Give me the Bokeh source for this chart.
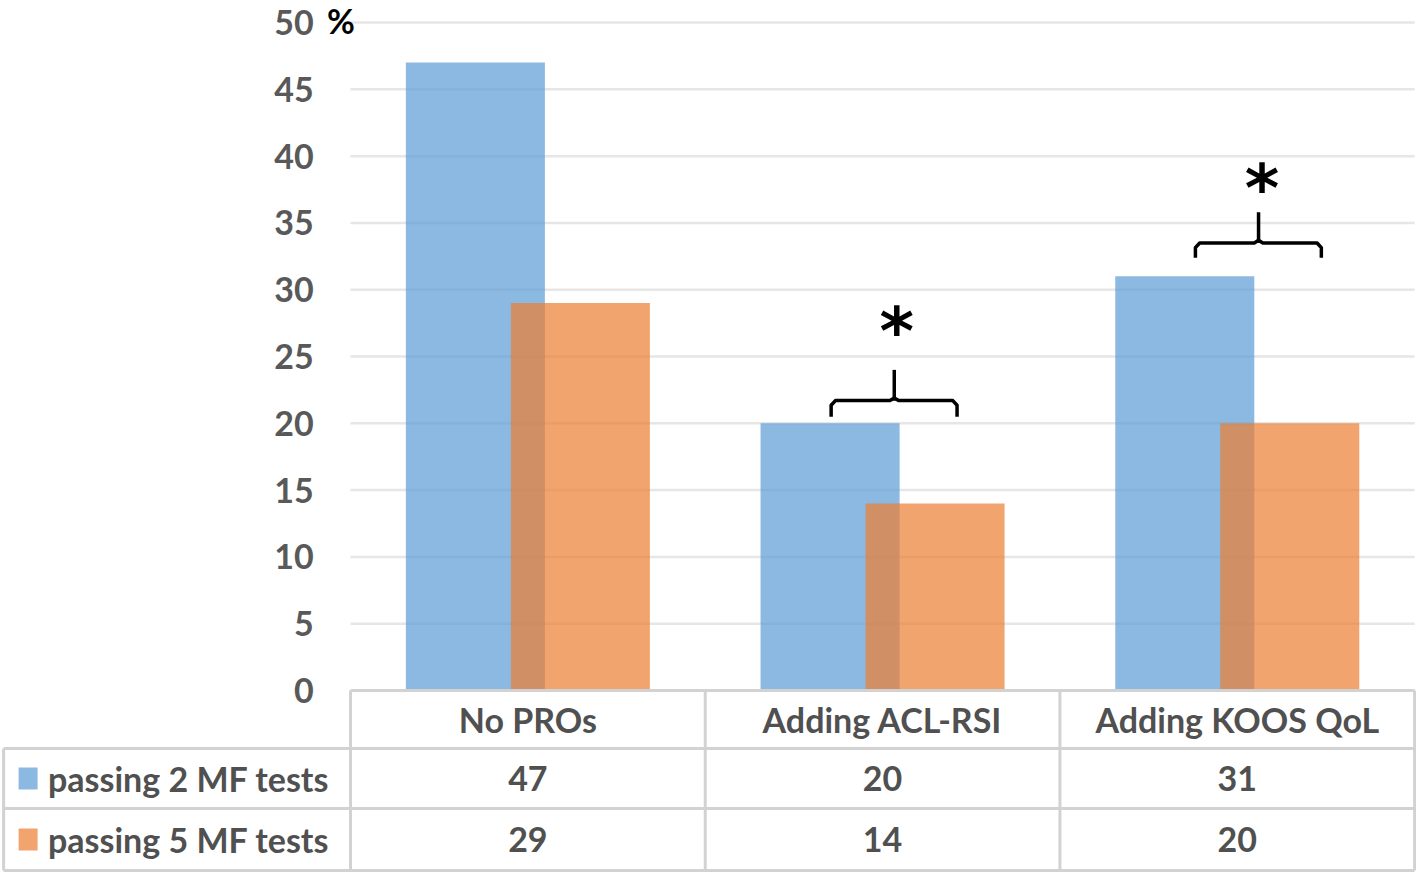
import numpy as np
from bokeh.plotting import figure
from bokeh.models import Range1d, ColumnDataSource
from bokeh.core.properties import value
from bokeh.embed import file_html
from bokeh.resources import INLINE

# ---------------- data ----------------
categories = ["No PROs", "Adding ACL-RSI", "Adding KOOS QoL"]
series_names = ["passing 2 MF tests", "passing 5 MF tests"]
pass2 = [47, 20, 31]
pass5 = [29, 14, 20]
y_ticks = [0, 5, 10, 15, 20, 25, 30, 35, 40, 45, 50]
colors = ["#5B9BD5", "#ED7D31"]

# significance braces: category index, brace bottom, brace bar, stem top, star level
sig_cats = [1, 2]
sig_bottom = [20.5, 32.4]
sig_bar = [21.7, 33.5]
sig_top = [24.0, 35.8]
sig_star = [27.7, 38.4]

# ---------------- layout constants ----------------
FONT = value("Lato")
TXT = "#505050"
GRID = "#E6E6E6"
BORDER = "#D2D2D2"
FS = "34px"
n = len(categories)
centers = np.arange(n) + 0.5
dodge = 0.148
bar_w = 0.392
left_col = -0.978
row_lines = [0.0, -4.34, -8.83, -13.47]

p = figure(width=1416, height=873, output_backend="svg", toolbar_location=None,
           x_range=Range1d(-0.9868, 3.0053), y_range=Range1d(-13.70, 51.65),
           min_border=0, min_border_left=0, min_border_right=0,
           min_border_top=0, min_border_bottom=0)
p.axis.visible = False
p.grid.visible = False
p.outline_line_color = None
p.background_fill_color = "white"
p.border_fill_color = "white"

# gridlines
gt = [t for t in y_ticks if t > 0]
p.segment(x0=[0.0] * len(gt), x1=[3.0] * len(gt), y0=gt, y1=gt,
          line_color=GRID, line_width=2.5)

# bars
src = ColumnDataSource(dict(xb=centers - dodge, xo=centers + dodge, b=pass2, o=pass5))
p.vbar(x="xb", top="b", bottom=0, width=bar_w, source=src,
       fill_color=colors[0], fill_alpha=0.7, line_color=None)
p.vbar(x="xo", top="o", bottom=0, width=bar_w, source=src,
       fill_color=colors[1], fill_alpha=0.7, line_color=None)

# y tick labels
p.text(x=[-0.104] * len(y_ticks), y=y_ticks, text=[str(t) for t in y_ticks],
       text_font=FONT, text_font_style="bold", text_font_size=FS,
       text_color="#595959", text_align="right", text_baseline="middle")
p.text(x=[-0.066], y=[50.15], text=["%"], text_font=FONT, text_font_style="bold",
       text_font_size="34px", text_color="black", text_align="left", text_baseline="middle")

# braces
xs, ys = [], []
for c, yb, ym, yt in zip(sig_cats, sig_bottom, sig_bar, sig_top):
    cx = c + 0.5
    l, r, s = cx - 0.145, cx + 0.21, cx + 0.033
    if c == 2:
        l, r, s = cx - 0.118, cx + 0.237, cx + 0.060
    rad = 0.012
    xs.append([l, l, l + rad, s - rad, s, s + rad, r - rad, r, r])
    ys.append([yb, ym - 0.35, ym, ym, ym + 0.2, ym, ym, ym - 0.35, yb])
    xs.append([s, s])
    ys.append([ym, yt])
p.multi_line(xs=xs, ys=ys, line_color="black", line_width=3.5, line_join="round")

star_x = [c + 0.5 + 0.04 if c == 1 else c + 0.5 + 0.07 for c in sig_cats]
p.text(x=star_x, y=[v - 0.85 for v in sig_star], text=["*"] * len(sig_cats),
       text_font=value("DejaVu Sans"), text_font_style="bold", text_font_size="66px",
       text_color="black", text_align="center", text_baseline="middle")

# table lines
hx0, hx1, hy = [], [], []
hx0.append(0.0); hx1.append(3.0); hy.append(row_lines[0])
for yv in row_lines[1:]:
    hx0.append(left_col); hx1.append(3.0); hy.append(yv)
p.segment(x0=hx0, x1=hx1, y0=hy, y1=hy, line_color=BORDER, line_width=3)
vx = [left_col, 0.0, 1.0, 2.0, 3.0]
vy0 = [row_lines[1], 0.0, 0.0, 0.0, 0.0]
p.segment(x0=vx, x1=vx, y0=vy0, y1=[row_lines[3]] * len(vx), line_color=BORDER, line_width=3)

# table text
row_mid = [(row_lines[i] + row_lines[i + 1]) / 2 for i in range(3)]
p.text(x=centers, y=[row_mid[0]] * n, text=categories, text_font=FONT, text_font_style="bold",
       text_font_size=FS, text_color=TXT, text_align="center", text_baseline="middle")
p.text(x=centers, y=[row_mid[1]] * n, text=[str(v) for v in pass2], text_font=FONT,
       text_font_style="bold", text_font_size=FS, text_color=TXT,
       text_align="center", text_baseline="middle")
p.text(x=centers, y=[row_mid[2]] * n, text=[str(v) for v in pass5], text_font=FONT,
       text_font_style="bold", text_font_size=FS, text_color=TXT,
       text_align="center", text_baseline="middle")

# legend keys and names
p.rect(x=[-0.909, -0.909], y=row_mid[1:], width=19, height=22, width_units="screen",
       height_units="screen", fill_color=colors, fill_alpha=0.7, line_color=None)
p.text(x=[-0.853, -0.853], y=row_mid[1:], text=series_names, text_font=FONT,
       text_font_style="bold", text_font_size=FS, text_color=TXT,
       text_align="left", text_baseline="middle")

open("out.html", "w").write(file_html(p, INLINE))
